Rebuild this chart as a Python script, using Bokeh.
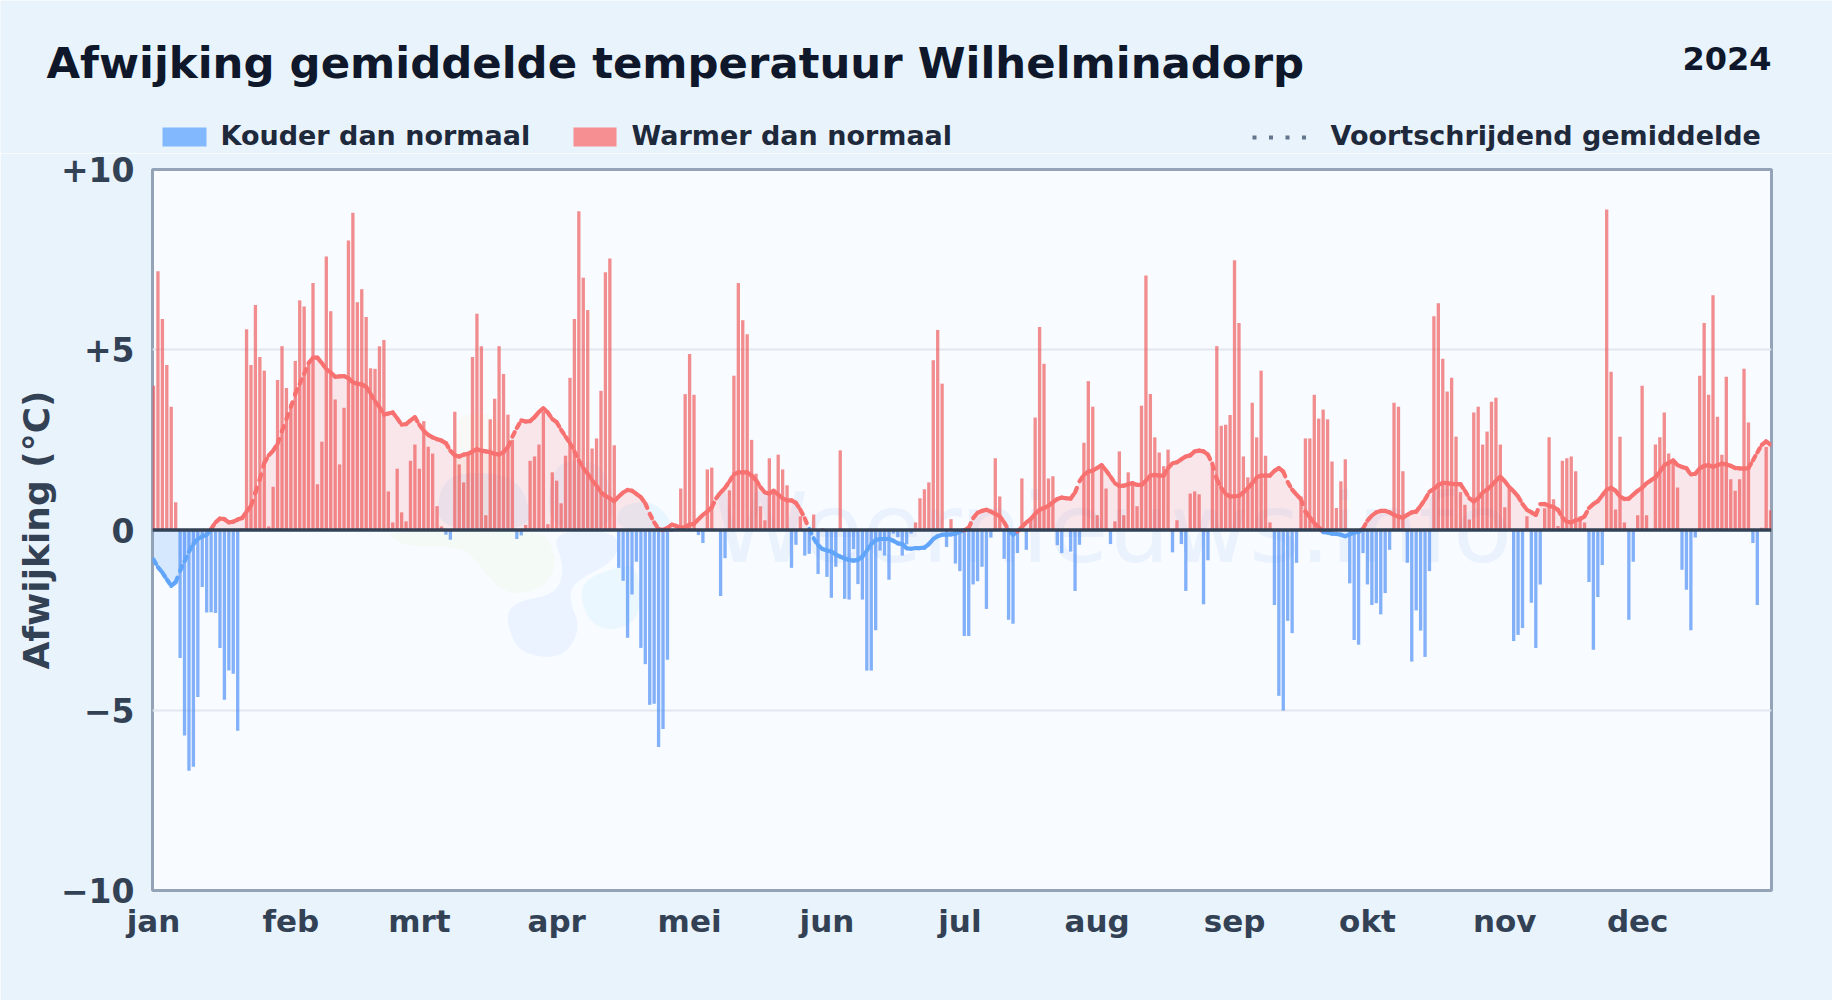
from bokeh.plotting import figure
from bokeh.embed import file_html
from bokeh.resources import INLINE
from bokeh.core.properties import value
from bokeh.layouts import column
from bokeh.models import Label, Span, FixedTicker, Range1d

month_labels = ["jan","feb","mrt","apr","mei","jun","jul","aug","sep","okt","nov","dec"]
month_start = [0,31,60,91,121,152,182,213,244,274,305,335]
y_labels = {10:"+10",5:"+5",0:"0",-5:"\u22125",-10:"\u221210"}

deviation = [
 4.0,7.18,5.85,4.58,3.42,.77,-3.55,-5.7,-6.68,-6.57,
 -4.63,-1.58,-2.29,-2.28,-2.3,-3.27,-4.71,-3.9,-3.99,-5.57,
 .05,5.57,4.58,6.24,4.8,4.42,.1,1.2,4.16,5.1,
 3.94,3.5,4.69,6.37,6.2,4.6,6.85,1.27,2.45,7.59,
 6.07,3.62,1.82,3.39,8.03,8.8,6.32,6.68,5.91,4.49,
 4.47,5.1,5.27,1.07,.21,1.7,.49,.24,1.92,2.37,
 1.7,3.02,2.31,2.12,.66,.1,-.13,-.27,3.28,1.82,
 1.32,2.09,4.8,6.0,5.1,.41,3.07,3.64,5.1,4.33,
 3.2,2.5,-.25,-.15,.14,1.92,2.04,2.37,3.28,.16,
 1.6,1.37,.74,2.06,4.22,5.85,8.84,7.0,6.1,2.26,
 2.54,3.86,7.15,7.53,2.35,-1.05,-1.41,-2.99,-1.79,-.88,
 -3.27,-3.72,-4.85,-4.82,-6.02,-5.52,-3.6,-.05,.02,1.15,
 3.77,4.88,3.75,-.14,-.36,1.68,1.73,.03,-1.83,-.78,
 1.1,4.28,6.85,5.82,5.43,2.5,1.56,.66,.27,1.99,
 1.1,2.09,1.68,1.24,-1.05,-.41,.38,-.71,-.66,.43,
 -1.22,.05,-1.3,-1.88,-1.02,2.21,-1.91,-1.93,-.53,-1.5,
 -1.93,-3.9,-3.9,-2.78,-.57,-.71,-1.38,-.1,-.2,-.71,
 -.4,-.1,.21,.88,1.13,1.32,4.71,5.55,4.06,-.47,
 .3,-.93,-1.14,-2.94,-2.94,-1.51,-1.42,-1.02,-2.19,-.21,
 1.99,.93,-.8,-2.49,-2.6,-.64,1.43,-.55,.3,3.12,
 5.63,4.61,1.43,1.49,-.42,-.64,0,-.6,-1.69,-.41,
 2.42,4.13,3.42,.41,1.82,1.15,-.39,.24,2.18,.41,
 1.6,1.25,.66,3.45,7.06,3.77,2.57,2.15,1.77,2.23,
 -.62,.27,-.39,-1.69,1.01,1.07,.99,-2.06,-.84,1.9,
 5.1,2.89,2.92,3.19,7.48,5.74,2.04,1.46,3.53,2.57,
 4.42,2.06,.21,-2.08,-4.6,-5.01,-2.52,-2.86,-.91,.93,
 2.54,2.54,3.75,3.09,3.34,3.07,1.9,.61,1.35,1.96,
 -1.48,-3.05,-3.18,-.64,-1.51,-2.08,-2.03,-2.34,-1.75,-.55,
 3.53,3.42,1.63,-.91,-3.65,-2.23,-2.79,-3.52,-1.14,5.93,
 6.29,4.75,3.84,4.22,2.59,1.05,.7,.29,3.26,3.42,
 2.37,2.73,3.56,3.67,2.37,.63,1.16,-3.08,-2.91,-2.72,
 .38,-2.02,-3.27,-1.51,.6,2.57,.85,.11,1.92,1.99,
 2.04,1.63,.38,.21,-1.44,-3.32,-1.86,-.97,8.89,4.39,
 .57,2.59,.21,-2.49,-.88,.41,4.0,.41,0,2.37,
 2.57,3.26,2.12,1.9,1.18,-1.1,-1.66,-2.78,-.21,4.28,
 5.74,3.75,6.51,3.14,2.09,4.25,1.41,1.09,1.41,4.47,
 2.98,-.36,-2.08,.06,2.3,.55]

rolling = [
 -.82,-1.03,-1.18,-1.37,-1.55,-1.45,-1.13,-.87,-.6,-.39,
 -.25,-.18,-.13,.03,.21,.32,.3,.21,.23,.29,
 .33,.51,.67,1.04,1.41,1.86,2.07,2.2,2.39,2.75,
 3.08,3.41,3.78,4.05,4.33,4.63,4.78,4.78,4.63,4.46,
 4.37,4.25,4.26,4.27,4.21,4.1,4.06,4.04,3.97,3.78,
 3.57,3.41,3.2,3.23,3.26,3.1,2.92,2.94,3.04,3.13,
 2.92,2.75,2.64,2.57,2.52,2.48,2.41,2.2,2.07,2.04,
 2.09,2.11,2.18,2.24,2.2,2.18,2.16,2.11,2.1,2.16,
 2.3,2.59,2.83,3.04,3.01,3.02,3.13,3.28,3.38,3.26,
 3.08,2.99,2.78,2.59,2.41,2.18,1.93,1.72,1.56,1.38,
 1.23,1.04,.95,.88,.8,.93,1.04,1.11,1.09,1.0,
 .91,.74,.45,.21,.03,0,.06,.15,.11,.06,
 .08,.15,.17,.3,.42,.51,.63,.88,1.04,1.17,
 1.35,1.54,1.6,1.6,1.6,1.51,1.38,1.19,1.04,1.01,
 1.09,.98,.88,.82,.82,.75,.56,.32,.03,-.23,
 -.42,-.53,-.57,-.6,-.68,-.74,-.79,-.83,-.85,-.83,
 -.74,-.57,-.39,-.28,-.25,-.25,-.25,-.3,-.37,-.39,
 -.51,-.52,-.5,-.5,-.49,-.39,-.25,-.17,-.13,-.13,
 -.12,-.1,-.04,-.01,.06,.33,.48,.53,.56,.51,
 .45,.38,.21,0,-.13,-.04,.08,.21,.3,.45,
 .56,.61,.67,.77,.86,.9,.88,.87,1.04,1.35,
 1.53,1.62,1.65,1.72,1.8,1.65,1.48,1.3,1.22,1.23,
 1.27,1.3,1.25,1.25,1.37,1.51,1.53,1.51,1.51,1.72,
 1.85,1.88,1.96,2.04,2.07,2.18,2.2,2.18,2.09,1.83,
 1.41,1.17,1.0,.93,.93,.95,1.04,1.16,1.3,1.46,
 1.51,1.51,1.51,1.64,1.72,1.62,1.33,1.12,.98,.85,
 .51,.35,.19,.08,-.06,-.07,-.1,-.11,-.13,-.17,
 -.12,-.07,-.05,.04,.26,.4,.49,.53,.53,.49,
 .42,.37,.34,.42,.49,.51,.67,.85,1.06,1.14,
 1.25,1.31,1.3,1.28,1.27,1.27,1.09,.88,.79,.88,
 1.04,1.12,1.23,1.37,1.48,1.35,1.19,1.07,.93,.72,
 .56,.49,.42,.72,.72,.67,.64,.56,.35,.23,
 .21,.27,.3,.38,.61,.72,.8,.96,1.12,1.17,
 1.09,.93,.86,.87,.98,1.09,1.17,1.3,1.38,1.46,
 1.62,1.8,1.86,1.93,1.8,1.75,1.71,1.54,1.56,1.71,
 1.78,1.8,1.75,1.8,1.84,1.82,1.78,1.72,1.71,1.7,
 1.72,1.93,2.15,2.36,2.46,2.36]

assert len(deviation) == 366 and len(rolling) == 366
days = list(range(366))

BG = "#e8f3fc"
W, H = 1832, 1000
HEAD = 153                             # height of the header strip
FL, FR, FT, FB = 152, 1771, 169, 890   # frame edges in page pixels

# ---------- header strip: title, year and legend, placed in page pixels
head = figure(width=W, height=HEAD, output_backend="svg", toolbar_location=None,
              x_range=Range1d(0, W), y_range=Range1d(HEAD, 0),
              x_axis_type=None, y_axis_type=None,
              min_border=0, min_border_left=0, min_border_right=0, min_border_top=0, min_border_bottom=0,
              background_fill_color=BG, border_fill_color=BG, outline_line_color=None)
head.frame_align = False
head.xgrid.visible = False
head.ygrid.visible = False

def text(s, x, base, size, color, align="left"):
    head.text(x=[x], y=[base-0.36*size], text=[s], text_font=value("DejaVu Sans"), text_font_style="bold",
              text_font_size=value(f"{size}px"), text_color=color, text_align=align, text_baseline="alphabetic")
def box(l, r, t, b, color):
    head.quad(left=[l], right=[r], top=[t], bottom=[b], fill_color=color, line_color=None)

text("Afwijking gemiddelde temperatuur Wilhelminadorp", 46, 78, 43.4, "#0f172a")
text("2024", 1771, 70, 32, "#0f172a", "right")
box(162, 206, 127, 146, "#82b8fd")
text("Kouder dan normaal", 220, 145, 27, "#1e293b")
box(573, 616, 127, 146, "#f68f91")
text("Warmer dan normaal", 631, 145, 27, "#1e293b")
for i in range(4):
    box(1252+i*16.5, 1256+i*16.5, 135, 139, "#64748b")
text("Voortschrijdend gemiddelde", 1330, 145, 27, "#1e293b")

# ---------- main chart
p = figure(width=W, height=H-HEAD, output_backend="svg", toolbar_location=None,
           x_range=Range1d(-0.23, 365.2), y_range=Range1d(-10, 10),
           min_border_left=FL, min_border_right=W-FR, min_border_top=FT-HEAD, min_border_bottom=H-FB,
           background_fill_color="#f8fbff", border_fill_color=BG,
           outline_line_color="#94a3b8", outline_line_width=3)
p.frame_align = False

# screen units of annotations run from the frame's lower left corner
def sx(x): return x-FL
def sy(y): return FB-y

# --- watermark: decoration behind the data, positioned in reference pixels
def pd(x): return (x-153)/4.43
def pv(y): return (530-y)/36.07
def smooth(pts, n=3):
    for _ in range(n):
        out = []
        for i, (a, b) in enumerate(pts):
            c, d = pts[(i+1) % len(pts)]
            out += [(.75*a+.25*c, .75*b+.25*d), (.25*a+.75*c, .25*b+.75*d)]
        pts = out
    return pts
def blob(pts, color, alpha):
    pts = smooth(pts)
    p.patch([pd(360+a/3) for a,b in pts], [pv(400+b/3) for a,b in pts],
            fill_color=color, fill_alpha=alpha, line_color=None, level="underlay")
blob([(80,392),(95,420),(150,440),(280,440),(330,460),(390,540),(450,585),(540,570),(590,500),(570,430),(540,392)], "#d9f99d", 0.1)
blob([(280,392),(280,60),(330,40),(400,40),(430,100),(450,392)], "#fde68a", 0.08)
blob([(440,670),(445,625),(490,600),(590,580),(612,500),(570,392),(775,392),(770,480),(640,545),(625,600),(660,680),(620,760),(550,775),(470,750)], "#93c5fd", 0.14)
blob([(660,600),(670,540),(760,505),(830,490),(845,650),(760,695),(690,670)], "#7dd3fc", 0.1)
blob([(230,392),(235,260),(300,215),(450,225),(505,300),(505,392)], "#93c5fd", 0.15)
blob([(560,392),(570,210),(640,175),(740,200),(770,392)], "#93c5fd", 0.12)
blob([(770,392),(770,320),(860,300),(920,340),(935,392)], "#7dd3fc", 0.12)
p.add_layout(Label(x=sx(712), y=sy(528), x_units="screen", y_units="screen", text="Weernieuws.info",
                   text_font="DejaVu Sans", text_font_size="97px", text_color="#3b82f6", text_alpha=0.07,
                   text_baseline="alphabetic", level="underlay"))

# --- grid
p.xgrid.visible = False
p.ygrid.ticker = FixedTicker(ticks=[-5, 5])
p.ygrid.grid_line_color = "#e2e8f0"
p.ygrid.grid_line_width = 2

# --- area under the rolling mean
pos = [max(v, 0) for v in rolling]
neg = [min(v, 0) for v in rolling]
p.varea(x=days, y1=pos, y2=[0]*366, fill_color="#f87171", fill_alpha=0.15)
p.varea(x=days[:14], y1=neg[:14], y2=[0]*14, fill_color="#60a5fa", fill_alpha=0.22)
p.varea(x=days[14:], y1=neg[14:], y2=[0]*352, fill_color="#60a5fa", fill_alpha=0.05)

# --- daily bars
warm_d = [d for d, v in zip(days, deviation) if v >= 0]
warm_v = [v for v in deviation if v >= 0]
cold_d = [d for d, v in zip(days, deviation) if v < 0]
cold_v = [v for v in deviation if v < 0]
p.vbar(x=warm_d, top=warm_v, bottom=0, width=0.75, fill_color="#ef4444", fill_alpha=0.6, line_color=None)
p.vbar(x=cold_d, top=0, bottom=cold_v, width=0.75, fill_color="#3b82f6", fill_alpha=0.62, line_color=None)

# --- rolling mean, one dashed stroke per day: the gaps only show on steep stretches
seg_color = ["#60a5fa" if (a+b)/2 < 0 else "#f87171" for a, b in zip(rolling[:-1], rolling[1:])]
p.segment(x0=days[:-1], y0=rolling[:-1], x1=days[1:], y1=rolling[1:], line_color=seg_color,
          line_width=4.2, line_dash="5 8", line_cap="round")

p.add_layout(Span(location=0, dimension="width", line_color="#334155", line_width=3.5, level="overlay"))

# --- axes
p.yaxis.ticker = FixedTicker(ticks=list(y_labels))
p.yaxis.major_label_overrides = y_labels
p.yaxis.axis_label = "Afwijking (\u00b0C)"
p.xaxis.ticker = FixedTicker(ticks=month_start)
p.xaxis.major_label_overrides = dict(zip(month_start, month_labels))
for ax in (p.xaxis[0], p.yaxis[0]):
    ax.axis_line_color = None
    ax.major_tick_line_color = None
    ax.minor_tick_line_color = None
    ax.major_label_text_font = "DejaVu Sans"
    ax.major_label_text_font_style = "bold"
    ax.major_label_text_color = "#334155"
p.yaxis.major_label_text_font_size = "33px"
p.xaxis.major_label_text_font_size = "31px"
p.yaxis.major_label_standoff = 12
p.xaxis.major_label_standoff = 6
p.yaxis.axis_label_text_font = "DejaVu Sans"
p.yaxis.axis_label_text_font_style = "bold"
p.yaxis.axis_label_text_font_size = "36px"
p.yaxis.axis_label_text_color = "#334155"
p.yaxis.axis_label_standoff = 1

page = column(head, p, spacing=0)
open("out.html", "w").write(file_html(page, INLINE))
